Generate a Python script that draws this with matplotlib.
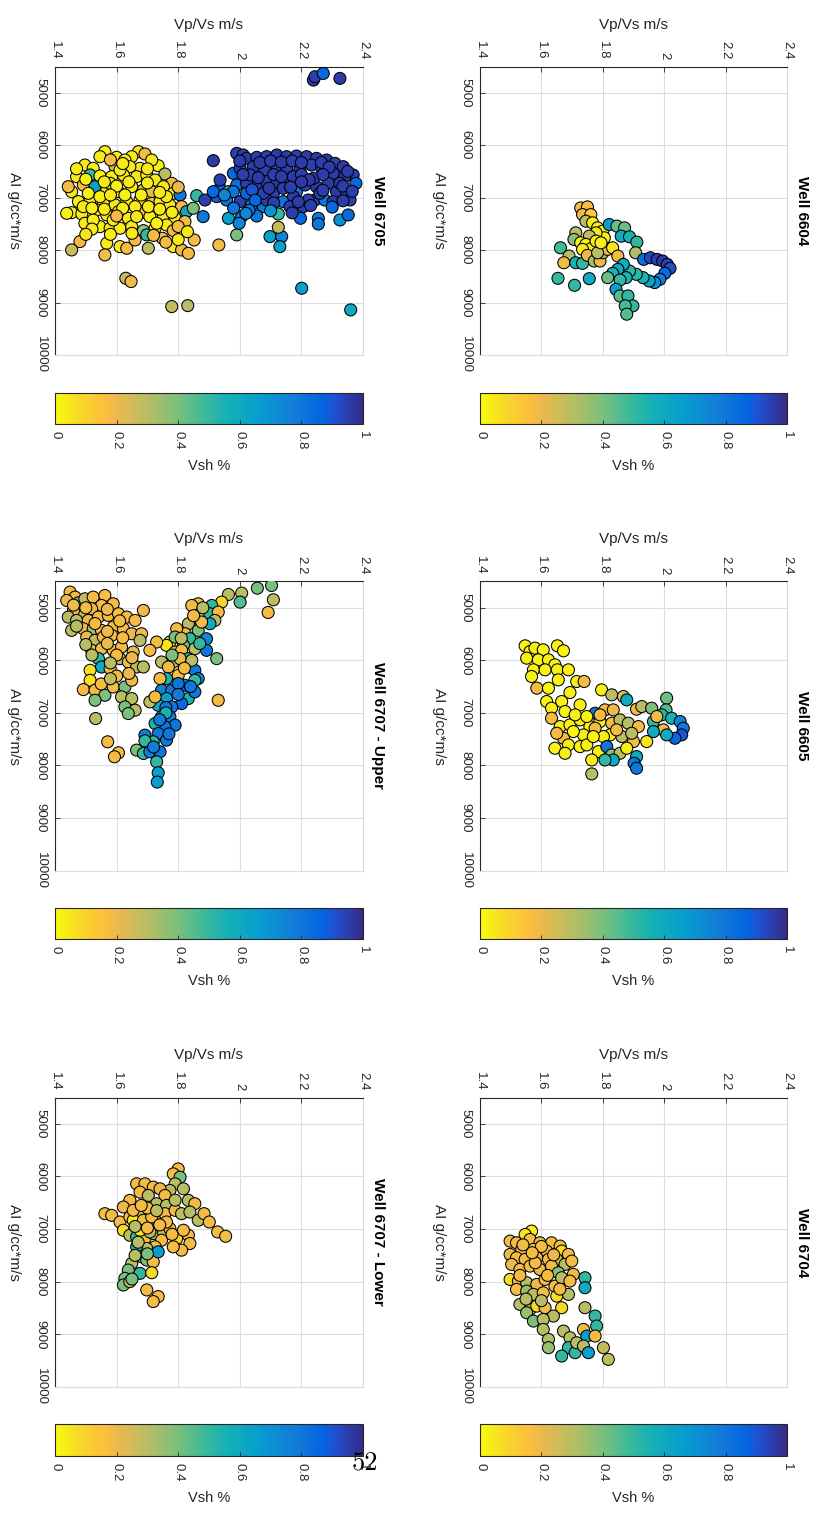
import numpy as np
import matplotlib
matplotlib.use("Agg")
import matplotlib.pyplot as plt
from matplotlib.colors import LinearSegmentedColormap
from matplotlib.cm import ScalarMappable

plt.rcParams['font.family'] = ['Liberation Sans', 'DejaVu Sans']

# axis ticks
vpvs_ticks = [1.4, 1.6, 1.8, 2.0, 2.2, 2.4]
vpvs_labels = ['1.4', '1.6', '1.8', '2', '2.2', '2.4']
ai_ticks = [5000, 6000, 7000, 8000, 9000, 10000]
vsh_ticks = [0, 0.2, 0.4, 0.6, 0.8, 1]
vsh_labels = ['0', '0.2', '0.4', '0.6', '0.8', '1']

# parula (MATLAB) anchor colours, reversed below so that 0 = yellow
parula_pos = [0, 6, 8, 14, 21, 28, 33, 38, 44, 50, 53, 58, 63]
parula_rgb = [(0.2081, 0.1663, 0.5292), (0.1253, 0.3242, 0.8303), (0.0117, 0.3875, 0.8820),
              (0.0723, 0.4887, 0.8467), (0.0265, 0.6137, 0.8135), (0.0843, 0.6928, 0.7062),
              (0.2586, 0.7317, 0.5954), (0.4871, 0.7491, 0.4840), (0.7184, 0.7411, 0.3905),
              (0.9139, 0.7258, 0.3063), (0.9938, 0.7455, 0.2403), (0.9697, 0.8481, 0.1475),
              (0.9763, 0.9831, 0.0538)]

# (Vp/Vs, AI, Vsh) per well
well_6604 = [
    (1.728, 7196, .18), (1.750, 7177, .17), (1.734, 7323, .20), (1.761, 7323, .12), (1.745, 7449, .30),
    (1.767, 7481, .03), (1.783, 7576, .02), (1.800, 7639, .03), (1.805, 7766, .02), (1.778, 7671, .05),
    (1.756, 7734, .28), (1.712, 7671, .30), (1.706, 7797, .38), (1.728, 7861, .03), (1.745, 7892, .02),
    (1.761, 7975, .03), (1.734, 7987, .04), (1.662, 7956, .48), (1.690, 8114, .30), (1.673, 8241, .18),
    (1.712, 8241, .55), (1.734, 8253, .50), (1.750, 8101, .20), (1.772, 8209, .33), (1.791, 8209, .20),
    (1.800, 8051, .30), (1.816, 7987, .20), (1.832, 7956, .05), (1.849, 8114, .18), (1.821, 7513, .65),
    (1.846, 7544, .42), (1.871, 7576, .42), (1.860, 7734, .60), (1.887, 7747, .55), (1.911, 7848, .50),
    (1.907, 8051, .32), (1.933, 8177, .82), (1.955, 8146, .93), (1.977, 8177, .95), (1.995, 8209, .96),
    (2.010, 8272, .95), (2.019, 8348, .92), (2.002, 8443, .85), (1.986, 8557, .78), (1.969, 8620, .70),
    (1.951, 8589, .62), (1.931, 8525, .55), (1.909, 8462, .52), (1.887, 8399, .50), (1.867, 8272, .60),
    (1.849, 8367, .60), (1.832, 8443, .55), (1.876, 8525, .55), (1.856, 8570, .50), (1.816, 8525, .42),
    (1.843, 8747, .65), (1.856, 8874, .45), (1.882, 8874, .50), (1.898, 9063, .50), (1.873, 9063, .48),
    (1.878, 9222, .45), (1.654, 8538, .50), (1.708, 8671, .50), (1.756, 8544, .60), (1.783, 8051, .30),
    (1.778, 7829, .03), (1.794, 7861, .03),
]

well_6705 = [
    (1.562, 6124, .03), (1.546, 6219, .04), (1.600, 6232, .03), (1.671, 6124, .05), (1.692, 6168, .18),
    (1.649, 6219, .04), (1.627, 6283, .03), (1.497, 6378, .04), (1.524, 6441, .03), (1.735, 6391, .03),
    (1.676, 6441, .05), (1.595, 6410, .30), (1.643, 6410, .04), (1.514, 6568, .50), (1.546, 6587, .03),
    (1.470, 6600, .04), (1.584, 6600, .03), (1.622, 6568, .04), (1.665, 6600, .05), (1.698, 6568, .03),
    (1.757, 6549, .30), (1.779, 6727, .18), (1.725, 6664, .04), (1.454, 6886, .04), (1.492, 6759, .18),
    (1.530, 6791, .65), (1.568, 6854, .03), (1.606, 6886, .04), (1.649, 6791, .03), (1.687, 6854, .18),
    (1.714, 6886, .20), (1.752, 6791, .04), (1.784, 6918, .05), (1.806, 6949, .80), (1.860, 6962, .50),
    (1.476, 7076, .03), (1.514, 7045, .04), (1.557, 7108, .03), (1.595, 7140, .04), (1.633, 7076, .03),
    (1.676, 7045, .04), (1.714, 7108, .18), (1.741, 7076, .04), (1.773, 7140, .05), (1.811, 7172, .18),
    (1.827, 7267, .60), (1.849, 7203, .40), (1.454, 7286, .03), (1.487, 7311, .04), (1.535, 7235, .03),
    (1.568, 7330, .04), (1.606, 7267, .03), (1.638, 7394, .04), (1.676, 7299, .18), (1.708, 7362, .03),
    (1.752, 7362, .04), (1.790, 7394, .05), (1.822, 7457, .18), (1.497, 7489, .04), (1.546, 7553, .03),
    (1.579, 7584, .04), (1.611, 7584, .03), (1.649, 7553, .04), (1.687, 7629, .35), (1.725, 7584, .03),
    (1.762, 7521, .04), (1.784, 7629, .20), (1.698, 7711, .50), (1.481, 7838, .18), (1.454, 7997, .27),
    (1.568, 7870, .04), (1.611, 7934, .04), (1.633, 7965, .18), (1.660, 7807, .18), (1.703, 7965, .30),
    (1.749, 7775, .18), (1.784, 7934, .05), (1.811, 7997, .20), (1.833, 8061, .18), (1.852, 7807, .18),
    (1.562, 8092, .18), (1.630, 8537, .28), (1.647, 8600, .18), (1.779, 9077, .28), (1.831, 9058, .30),
    (1.932, 7902, .18), (1.990, 7711, .40), (1.508, 6918, .03), (1.579, 6727, .04), (1.627, 6949, .03),
    (1.660, 7172, .04), (1.524, 7426, .03), (1.589, 7426, .04), (1.730, 7489, .03), (1.665, 7362, .05),
    (1.492, 7172, .04), (1.438, 7299, .03), (1.443, 6791, .18), (1.611, 6473, .04), (1.714, 6283, .04),
    (1.762, 6981, .04), (1.546, 6981, .03), (1.703, 7172, .04),
    (1.470, 6450, .04), (1.500, 6650, .03), (1.560, 6700, .04), (1.600, 6780, .03), (1.640, 6700, .04),
    (1.700, 6720, .03), (1.740, 6900, .04), (1.680, 6950, .03), (1.580, 6950, .04), (1.520, 7200, .03),
    (1.560, 7220, .04), (1.620, 7200, .03), (1.740, 7220, .04), (1.780, 7280, .04), (1.600, 7350, .18),
    (1.520, 7600, .04), (1.580, 7700, .03), (1.650, 7680, .04), (1.720, 7720, .18), (1.800, 7800, .04),
    (1.760, 7850, .18), (1.500, 7700, .05), (1.620, 6350, .04), (1.580, 6280, .18), (1.700, 6450, .04),
    (1.800, 6800, .20), (1.800, 7550, .18), (1.830, 7650, .05),
    (1.990, 6156, .95), (2.011, 6187, .95), (2.022, 6251, .96), (1.914, 6295, .96), (2.055, 6232, .95),
    (2.087, 6219, .95), (2.120, 6187, .96), (2.152, 6219, .95), (2.184, 6207, .95), (2.217, 6219, .96),
    (2.249, 6251, .95), (2.282, 6283, .96), (2.309, 6346, .95), (2.336, 6410, .96), (2.368, 6568, .95),
    (2.377, 6727, .85), (1.979, 6537, .85), (2.001, 6441, .95), (2.044, 6410, .96), (2.082, 6473, .95),
    (2.120, 6410, .96), (2.152, 6441, .95), (2.195, 6473, .96), (2.233, 6378, .95), (2.266, 6441, .96),
    (2.303, 6537, .95), (2.341, 6600, .96), (1.936, 6822, .85), (1.963, 6886, .50), (1.990, 6759, .82),
    (2.022, 6727, .95), (2.055, 6791, .96), (2.087, 6695, .95), (2.120, 6727, .96), (2.157, 6664, .95),
    (2.184, 6886, .80), (2.212, 6759, .95), (2.249, 6791, .96), (2.287, 6727, .95), (2.314, 6886, .96),
    (2.347, 6918, .95), (2.049, 6949, .55), (2.109, 6918, .95), (2.141, 7076, .80), (2.174, 6981, .96),
    (2.206, 7172, .95), (2.244, 7045, .96), (2.276, 7045, .80), (2.358, 7045, .95), (1.925, 6981, .90),
    (1.957, 7045, .80), (2.001, 7076, .95), (2.038, 7140, .75), (2.076, 7172, .80), (2.087, 7045, .95),
    (2.125, 7311, .50), (2.163, 7172, .95), (2.197, 7394, .85), (2.255, 7394, .80), (2.255, 7502, .80),
    (2.325, 7426, .70), (2.352, 7330, .85), (1.887, 7045, .95), (1.881, 7362, .80), (1.963, 7394, .65),
    (2.006, 7362, .80), (2.055, 7350, .80), (1.998, 7489, .75), (2.098, 7743, .65), (2.136, 7743, .75),
    (2.130, 7934, .65), (2.125, 7565, .28), (2.239, 4759, .96), (2.244, 4695, .95), (2.271, 4632, .85),
    (2.325, 4727, .96), (2.201, 8727, .65), (2.360, 9140, .60), (2.033, 6568, .95), (2.174, 6600, .96),
    (2.239, 6632, .95), (2.325, 6727, .96), (2.076, 6918, .95), (2.141, 6822, .96), (2.260, 6918, .95),
    (2.303, 7076, .96), (1.979, 6886, .80), (1.936, 6664, .95), (2.022, 6918, .85), (2.222, 7045, .95),
    (1.914, 6886, .85),
    (2.000, 6300, .95), (2.065, 6330, .96), (2.100, 6300, .95), (2.135, 6320, .96), (2.170, 6300, .95),
    (2.200, 6330, .96), (2.265, 6330, .95), (2.290, 6420, .96), (2.010, 6560, .95), (2.060, 6620, .96),
    (2.110, 6560, .95), (2.135, 6600, .96), (2.200, 6560, .95), (2.225, 6660, .96), (2.270, 6560, .95),
    (2.350, 6500, .96), (2.040, 6850, .90), (2.095, 6820, .96), (2.165, 6800, .95), (2.200, 6700, .96),
    (2.270, 6860, .95), (2.335, 6780, .96), (2.365, 6880, .95), (2.050, 7050, .85), (2.110, 7100, .95),
    (2.190, 7080, .96), (2.230, 7150, .95), (2.300, 7180, .85), (2.335, 7060, .96), (2.030, 7240, .80),
    (2.170, 7290, .95), (1.950, 6950, .75), (1.980, 7200, .80), (2.020, 7300, .75), (2.100, 7250, .70),
]

well_6605 = [
    (1.547, 5724, .03), (1.563, 5832, .02), (1.579, 5768, .03), (1.606, 5800, .02), (1.652, 5724, .03),
    (1.672, 5819, .02), (1.552, 5959, .03), (1.590, 5991, .02), (1.623, 5991, .03), (1.644, 6086, .02),
    (1.574, 6181, .03), (1.612, 6181, .02), (1.652, 6181, .03), (1.688, 6181, .02), (1.568, 6308, .03),
    (1.655, 6372, .02), (1.715, 6403, .03), (1.739, 6403, .18), (1.585, 6530, .18), (1.623, 6530, .02),
    (1.693, 6613, .03), (1.796, 6562, .03), (1.617, 6784, .02), (1.666, 6784, .03), (1.633, 6911, .03),
    (1.677, 6975, .02), (1.726, 6848, .03), (1.775, 7007, .80), (1.807, 6943, .18), (1.834, 6943, .20),
    (1.829, 6657, .30), (1.867, 6689, .20), (1.878, 6753, .60), (1.910, 6930, .18), (1.927, 6880, .30),
    (1.959, 6911, .40), (2.008, 6721, .42), (2.006, 6943, .45), (1.992, 7038, .52), (1.633, 7102, .18),
    (1.661, 7261, .03), (1.693, 7229, .02), (1.726, 7134, .03), (1.758, 7261, .02), (1.791, 7165, .03),
    (1.829, 7197, .18), (1.856, 7134, .30), (1.883, 7197, .30), (1.916, 7261, .18), (1.965, 7165, .50),
    (1.997, 7324, .18), (2.024, 7102, .55), (2.052, 7165, .75), (2.062, 7292, .80), (2.057, 7419, .90),
    (2.035, 7483, .85), (2.008, 7419, .60), (1.965, 7356, .60), (1.943, 7546, .05), (1.900, 7546, .18),
    (1.862, 7451, .30), (1.824, 7419, .03), (1.802, 7451, .03), (1.775, 7292, .18), (1.737, 7419, .03),
    (1.704, 7356, .02), (1.672, 7483, .18), (1.688, 7610, .03), (1.644, 7673, .02), (1.677, 7769, .03),
    (1.726, 7642, .02), (1.748, 7610, .03), (1.786, 7737, .02), (1.764, 7896, .03), (1.813, 7642, .80),
    (1.829, 7800, .35), (1.856, 7769, .30), (1.834, 7896, .60), (1.878, 7673, .03), (1.910, 7832, .60),
    (1.902, 7959, .80), (1.910, 8054, .80), (1.807, 7896, .50), (1.764, 8162, .30), (1.710, 7038, .03),
    (1.748, 7070, .02), (1.791, 7038, .18), (1.769, 7451, .02), (1.845, 7324, .18), (1.650, 7388, .18),
    (1.894, 7388, .30), (1.976, 7070, .18),
]

well_6707_upper = [
    (1.449, 4702, .18), (1.465, 4797, .18), (1.438, 4861, .20), (1.476, 4905, .40), (1.497, 4829, .28),
    (1.524, 4797, .18), (1.562, 4766, .17), (1.589, 4924, .18), (1.551, 4956, .18), (1.519, 5019, .20),
    (1.487, 5082, .28), (1.460, 5051, .20), (1.443, 5177, .30), (1.470, 5241, .30), (1.508, 5241, .20),
    (1.541, 5177, .18), (1.573, 5146, .18), (1.606, 5114, .17), (1.633, 5177, .18), (1.660, 5241, .18),
    (1.687, 5051, .20), (1.454, 5430, .30), (1.492, 5399, .20), (1.524, 5399, .35), (1.551, 5430, .18),
    (1.589, 5367, .17), (1.622, 5399, .18), (1.649, 5494, .20), (1.681, 5494, .18), (1.503, 5557, .20),
    (1.530, 5620, .30), (1.557, 5557, .18), (1.584, 5525, .18), (1.676, 5620, .30), (1.519, 5810, .18),
    (1.551, 5779, .20), (1.589, 5810, .18), (1.616, 5747, .18), (1.654, 5842, .20), (1.541, 5968, .50),
    (1.551, 6127, .60), (1.514, 6190, .06), (1.579, 6158, .18), (1.611, 5968, .30), (1.638, 6032, .18),
    (1.665, 6127, .30), (1.687, 6127, .30), (1.514, 6380, .06), (1.492, 6557, .18), (1.530, 6570, .18),
    (1.562, 6665, .40), (1.589, 6507, .18), (1.627, 6507, .40), (1.649, 6380, .20), (1.616, 6696, .30),
    (1.530, 6760, .40), (1.649, 6728, .30), (1.627, 6886, .40), (1.660, 6950, .30), (1.638, 7013, .40),
    (1.532, 7108, .30), (1.571, 7551, .18), (1.606, 7760, .18), (1.593, 7836, .18),
    (1.460, 4950, .20), (1.500, 5000, .18), (1.570, 5030, .20), (1.610, 5250, .18), (1.470, 5350, .30),
    (1.530, 5300, .18), (1.570, 5450, .20), (1.620, 5570, .18), (1.500, 5700, .30), (1.570, 5680, .20),
    (1.600, 5900, .18), (1.650, 5950, .20), (1.520, 5900, .30), (1.580, 6050, .30), (1.600, 6300, .18),
    (1.640, 6250, .20), (1.550, 6450, .18), (1.580, 6350, .30),
    (2.103, 4576, .40), (2.057, 4627, .40), (2.006, 4721, .30), (2.001, 4892, .45), (1.963, 4747, .30),
    (1.941, 4892, .10), (1.909, 4956, .50), (1.865, 4924, .18), (1.844, 4956, .18), (1.876, 5114, .30),
    (1.903, 5114, .50), (1.930, 5082, .18), (1.919, 5241, .30), (2.109, 4848, .28), (2.092, 5089, .18),
    (1.854, 5241, .50), (1.833, 5304, .30), (1.903, 5304, .60), (1.822, 5494, .18), (1.795, 5399, .18),
    (1.865, 5430, .40), (1.892, 5589, .75), (1.892, 5810, .80), (1.838, 5589, .50), (1.817, 5715, .40),
    (1.773, 5652, .05), (1.762, 5715, .05), (1.730, 5652, .18), (1.708, 5810, .18), (1.790, 5842, .18),
    (1.811, 5810, .18), (1.854, 5779, .30), (1.925, 5968, .40), (1.833, 5968, .50), (1.784, 6032, .30),
    (1.746, 6032, .30), (1.800, 6285, .17), (1.768, 6127, .18), (1.833, 6127, .30), (1.854, 6190, .80),
    (1.865, 6348, .75), (1.854, 6380, .50), (1.822, 6475, .80), (1.762, 6348, .55), (1.741, 6348, .18),
    (1.746, 6570, .75), (1.779, 6570, .80), (1.762, 6728, .65), (1.833, 6728, .55), (1.811, 6823, .85),
    (1.854, 6601, .80), (1.930, 6760, .18), (1.735, 6855, .60), (1.779, 6886, .80), (1.746, 7076, .40),
    (1.773, 7076, .78), (1.790, 7234, .80), (1.757, 7266, .80), (1.725, 7203, .55), (1.692, 7424, .78),
    (1.735, 7393, .80), (1.762, 7519, .80), (1.719, 7551, .50), (1.692, 7532, .50), (1.665, 7709, .40),
    (1.687, 7773, .50), (1.708, 7741, .78), (1.741, 7741, .80), (1.730, 7931, .50), (1.735, 8140, .65),
    (1.732, 8317, .65), (1.708, 6791, .30), (1.725, 6696, .18), (1.876, 5272, .18), (1.790, 5557, .40),
    (1.806, 5968, .20), (1.844, 6000, .30), (1.800, 6443, .80),
    (1.880, 5000, .30), (1.850, 5150, .18), (1.810, 5580, .30), (1.870, 5680, .50), (1.780, 5900, .40),
    (1.820, 6150, .18), (1.800, 6650, .78), (1.840, 6500, .80), (1.760, 6900, .78), (1.770, 7400, .80),
    (1.720, 7650, .78), (1.760, 7000, .55), (1.740, 7130, .78),
]

well_6704 = [
    (1.568, 7038, .03), (1.547, 7102, .05), (1.498, 7228, .18), (1.519, 7260, .18), (1.563, 7197, .18),
    (1.595, 7260, .20), (1.633, 7260, .18), (1.661, 7323, .18), (1.536, 7386, .17), (1.574, 7386, .18),
    (1.617, 7418, .18), (1.666, 7418, .07), (1.688, 7481, .18), (1.498, 7481, .20), (1.519, 7545, .18),
    (1.547, 7576, .18), (1.585, 7545, .20), (1.623, 7576, .18), (1.650, 7576, .25), (1.677, 7671, .30),
    (1.699, 7608, .18), (1.503, 7671, .20), (1.530, 7766, .18), (1.563, 7703, .18), (1.595, 7766, .20),
    (1.633, 7703, .18), (1.655, 7829, .38), (1.704, 7861, .18), (1.742, 7924, .50), (1.742, 8114, .60),
    (1.498, 7956, .07), (1.525, 7988, .18), (1.552, 8019, .30), (1.585, 8051, .20), (1.612, 7956, .18),
    (1.644, 8083, .18), (1.666, 7924, .30), (1.693, 7988, .18), (1.519, 8146, .18), (1.552, 8178, .35),
    (1.574, 8241, .30), (1.606, 8209, .18), (1.650, 8273, .07), (1.688, 8241, .30), (1.530, 8431, .30),
    (1.563, 8526, .30), (1.585, 8463, .07), (1.612, 8494, .18), (1.666, 8494, .08), (1.639, 8652, .30),
    (1.552, 8589, .35), (1.574, 8747, .40), (1.606, 8716, .30), (1.606, 8906, .30), (1.623, 9095, .32),
    (1.623, 9253, .35), (1.672, 8937, .30), (1.693, 9064, .30), (1.688, 9253, .50), (1.666, 9412, .50),
    (1.710, 9348, .50), (1.742, 8494, .30), (1.775, 8652, .50), (1.780, 8842, .50), (1.737, 8906, .18),
    (1.748, 9032, .65), (1.775, 9032, .18), (1.715, 9159, .30), (1.737, 9222, .30), (1.753, 9348, .65),
    (1.802, 9253, .28), (1.818, 9475, .28), (1.540, 7300, .18), (1.600, 7330, .18), (1.640, 7490, .20),
    (1.580, 7640, .18), (1.530, 7880, .18), (1.620, 7880, .18), (1.660, 8140, .18), (1.600, 8360, .30),
    (1.550, 8330, .30), (1.570, 7450, .18),
]

well_6707_lower = [
    (1.800, 5857, .18), (1.784, 5951, .18), (1.806, 6014, .40), (1.790, 6140, .30), (1.773, 6266, .30),
    (1.817, 6235, .30), (1.665, 6140, .18), (1.692, 6140, .18), (1.719, 6203, .18), (1.741, 6235, .20),
    (1.757, 6361, .18), (1.676, 6298, .18), (1.703, 6361, .30), (1.730, 6518, .30), (1.762, 6550, .30),
    (1.833, 6455, .30), (1.854, 6518, .18), (1.643, 6455, .18), (1.622, 6581, .20), (1.562, 6707, .18),
    (1.584, 6739, .18), (1.611, 6865, .18), (1.643, 6770, .18), (1.676, 6707, .30), (1.703, 6896, .65),
    (1.725, 6739, .18), (1.757, 6707, .18), (1.790, 6644, .18), (1.811, 6707, .30), (1.838, 6676, .30),
    (1.865, 6833, .30), (1.884, 6707, .18), (1.901, 6865, .18), (1.928, 7054, .18), (1.954, 7136, .18),
    (1.654, 6833, .05), (1.622, 7022, .08), (1.643, 7117, .30), (1.665, 7148, .50), (1.692, 7180, .18),
    (1.719, 7085, .30), (1.752, 7054, .30), (1.773, 6991, .18), (1.795, 7180, .08), (1.833, 7117, .18),
    (1.838, 7274, .18), (1.811, 7400, .18), (1.784, 7337, .18), (1.746, 7211, .18), (1.725, 7337, .18),
    (1.698, 7369, .30), (1.665, 7337, .55), (1.681, 7526, .40), (1.698, 7589, .40), (1.719, 7621, .18),
    (1.649, 7652, .30), (1.638, 7778, .40), (1.676, 7841, .50), (1.714, 7829, .08), (1.627, 7936, .40),
    (1.622, 8062, .40), (1.643, 7999, .30), (1.698, 8156, .18), (1.735, 8282, .18), (1.719, 8377, .18),
    (1.735, 7432, .65), (1.708, 7054, .30), (1.687, 6833, .18), (1.654, 6644, .18), (1.762, 6865, .18),
    (1.714, 6770, .18), (1.676, 7022, .05), (1.817, 7022, .18), (1.700, 6600, .18), (1.730, 6650, .30),
    (1.660, 6950, .30), (1.700, 6980, .18), (1.740, 6920, .18), (1.780, 7100, .18), (1.670, 7250, .30),
    (1.700, 7470, .40), (1.660, 7500, .30), (1.650, 7950, .40), (1.790, 6450, .30), (1.680, 6550, .18),
]

# figure layout in pixels: axes columns and rows (top, bottom)
fig_w, fig_h = 818, 1517
cols = [(55, 308), (480, 307)]
rows = [(66.5, 355), (581.5, 870.5), (1097.5, 1387)]
cbar_rows = [(393, 424), (908, 939), (1424, 1456)]

panels = [
    ('Well 6705', well_6705, 0, 0), ('Well 6604', well_6604, 1, 0),
    ('Well 6707 - Upper', well_6707_upper, 0, 1), ('Well 6605', well_6605, 1, 1),
    ('Well 6707 - Lower', well_6707_lower, 0, 2), ('Well 6704', well_6704, 1, 2),
]

cmap = LinearSegmentedColormap.from_list(
    'parula', list(zip(np.array(parula_pos) / 63.0, parula_rgb))).reversed()

fig = plt.figure(figsize=(fig_w / 100, fig_h / 100), dpi=100)

tick_col = '#262626'
grid_col = '#dcdcdc'

for title, pts, c, r in panels:
    x0, w = cols[c]
    top, bot = rows[r]
    h = bot - top
    ax = fig.add_axes([x0 / fig_w, 1 - bot / fig_h, w / fig_w, h / fig_h])
    d = np.array(pts)
    ax.scatter(d[:, 0], d[:, 1], c=d[:, 2], cmap=cmap, vmin=0, vmax=1, s=75,
               edgecolors='black', linewidths=0.75, zorder=3)
    ax.set_xlim(1.4, 2.4)
    ax.set_ylim(10000, 4500)
    ax.set_xticks(vpvs_ticks)
    ax.set_xticklabels(vpvs_labels, rotation=-90)
    ax.set_yticks(ai_ticks)
    ax.set_yticklabels([str(t) for t in ai_ticks], rotation=-90, va='center')
    ax.xaxis.tick_top()
    ax.tick_params(axis='both', direction='in', length=3.5, width=0.6,
                   labelsize=9.5, colors=tick_col)
    ax.tick_params(axis='x', pad=5)
    ax.tick_params(axis='y', pad=6)
    ax.grid(True, color=grid_col, linewidth=0.8)
    ax.set_axisbelow(True)
    for s in ['top', 'left']:
        ax.spines[s].set_color(tick_col)
        ax.spines[s].set_linewidth(0.8)
    for s in ['right', 'bottom']:
        ax.spines[s].set_color(grid_col)
        ax.spines[s].set_linewidth(0.8)
    ax.text(0.5, 1 + 42 / h, 'Vp/Vs m/s', transform=ax.transAxes, ha='center', va='center',
            fontsize=11, color=tick_col)
    ax.text(-41 / w, 0.5, 'AI g/cc*m/s', transform=ax.transAxes, ha='center', va='center',
            rotation=-90, fontsize=11, color=tick_col)
    ax.text(1 + 15 / w, 0.5, title, transform=ax.transAxes, ha='center', va='center',
            rotation=-90, fontsize=11, fontweight='bold')

    cb_top, cb_bot = cbar_rows[r]
    cax = fig.add_axes([x0 / fig_w, 1 - cb_bot / fig_h, w / fig_w, (cb_bot - cb_top) / fig_h])
    cb = fig.colorbar(ScalarMappable(cmap=cmap), cax=cax, orientation='horizontal')
    cb.set_ticks(vsh_ticks)
    cb.set_ticklabels(vsh_labels, rotation=-90)
    cax.tick_params(direction='in', length=3, width=0.6, labelsize=9.5, colors=tick_col, pad=5)
    cb.outline.set_linewidth(0.8)
    cb.outline.set_edgecolor(tick_col)
    cax.text(0.5, -42 / (cb_bot - cb_top), 'Vsh %', transform=cax.transAxes, ha='center',
             va='center', fontsize=10.5, color=tick_col)

# page number of the rotated page
fig.text(365 / fig_w, 1 - 1463 / fig_h, '52', fontfamily='cmr10', fontsize=19,
         ha='center', va='center')

fig.savefig('out.png', dpi=100)
